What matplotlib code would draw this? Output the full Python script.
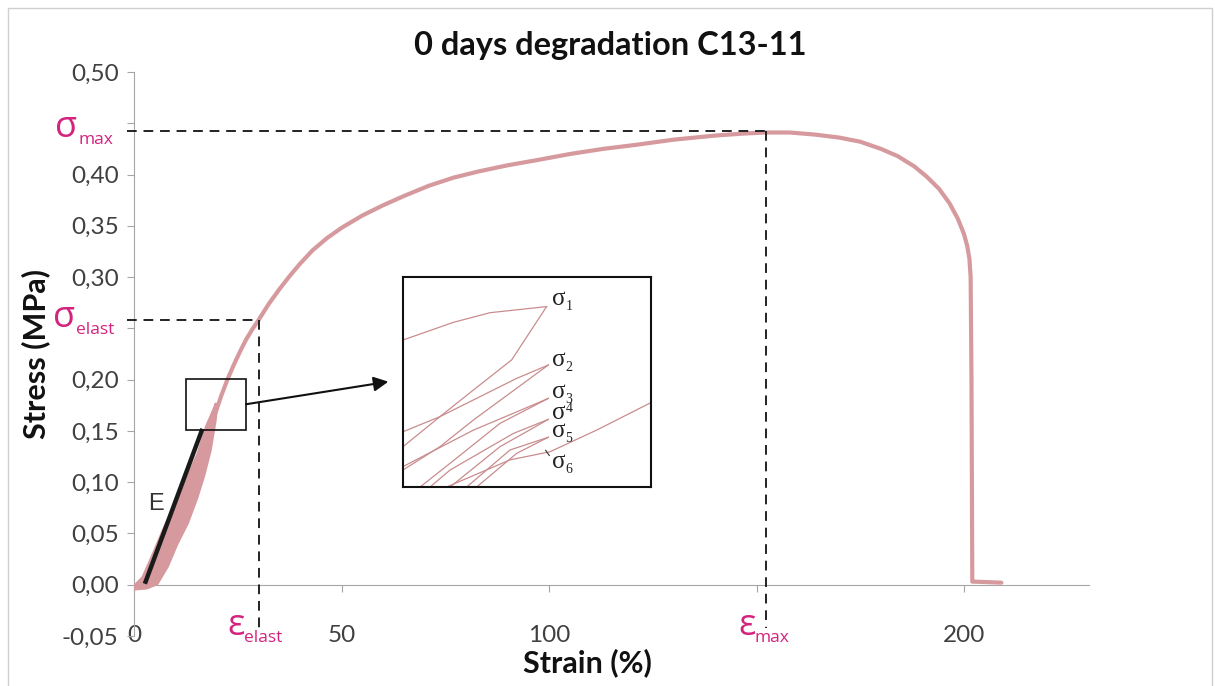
import numpy as np
import matplotlib.pyplot as plt
from matplotlib.patches import Rectangle

W, H = 1215, 686

# hysteresis band at the start (strain %, stress MPa)
loop_strain = [-0.5, 0.5, 2.2, 4.5, 7.1, 10.0, 12.7, 15.5, 17.5, 19.0, 19.9,
               19.5, 18.3, 16.8, 15.1, 12.8, 10.3, 8.0, 5.5, 3.0, 0.0, -0.5]
loop_stress = [-0.004, 0.0, 0.007, 0.028, 0.053, 0.078, 0.102, 0.128, 0.154, 0.168, 0.177,
               0.160, 0.131, 0.107, 0.085, 0.060, 0.040, 0.018, 0.001, -0.003, -0.004, -0.004]

# final loading up to rupture
curve_strain = [19.0, 20.0, 21.0, 22.5, 24.0, 25.5, 27.0, 28.5, 30.0, 32.5, 35.0, 37.5, 40.0,
                43.0, 46.5, 50.0, 55.0, 60.0, 65.0, 71.0, 77.0, 83.0, 90.0, 97.0, 105.0,
                113.0, 121.0, 130.0, 140.0, 147.0, 152.3, 158.0, 164.0, 170.0, 175.0, 180.0,
                184.0, 188.0, 191.0, 194.0, 196.5, 198.5, 200.0, 200.8, 201.3, 201.6, 201.8,
                202.0, 202.5, 209.0]
curve_stress = [0.160, 0.172, 0.184, 0.200, 0.214, 0.227, 0.239, 0.249, 0.258, 0.274, 0.288,
                0.301, 0.313, 0.326, 0.338, 0.348, 0.360, 0.370, 0.379, 0.389, 0.397, 0.403,
                0.409, 0.414, 0.420, 0.425, 0.429, 0.434, 0.438, 0.440, 0.441, 0.441, 0.439,
                0.436, 0.432, 0.425, 0.418, 0.408, 0.398, 0.386, 0.372, 0.357, 0.342, 0.330,
                0.318, 0.300, 0.200, 0.003, 0.003, 0.002]

# elastic modulus line
e_strain = [2.8, 16.3]
e_stress = [0.003, 0.150]

sigma_max, eps_max = 0.442, 152.3
sigma_elast, eps_elast = 0.258, 30.0

# region shown magnified
box_strain = [12.5, 27.0]
box_stress = [0.151, 0.201]

y_ticks = [-0.05, 0.0, 0.05, 0.10, 0.15, 0.20, 0.25, 0.30, 0.35, 0.40, 0.45, 0.50]
y_labels = ['-0,05', '0,00', '0,05', '0,10', '0,15', '0,20', '', '0,30', '0,35', '0,40', '', '0,50']
x_ticks = [0, 50, 100, 150, 200]
x_labels = ['0', '50', '100', '', '200']

# inset sketch (normalised inset coordinates)
inset_lines = [
    ([0.0, 0.203, 0.351, 0.579], [0.700, 0.784, 0.830, 0.859]),
    ([0.579, 0.438, 0.284, 0.149, 0.0], [0.859, 0.605, 0.462, 0.335, 0.192]),
    ([0.0, 0.149, 0.310, 0.458, 0.586], [0.263, 0.335, 0.430, 0.517, 0.581]),
    ([0.586, 0.284, 0.149, 0.0], [0.581, 0.319, 0.192, 0.081]),
    ([0.0, 0.284, 0.445, 0.586], [0.097, 0.271, 0.351, 0.422]),
    ([0.586, 0.391, 0.190, 0.069], [0.422, 0.303, 0.113, 0.0]),
    ([0.109, 0.190, 0.445, 0.586], [0.0, 0.081, 0.255, 0.322]),
    ([0.586, 0.391, 0.190], [0.322, 0.192, 0.0]),
    ([0.257, 0.431, 0.586], [0.0, 0.176, 0.237]),
    ([0.586, 0.458, 0.297], [0.237, 0.160, 0.0]),
    ([0.176, 0.431, 0.593, 0.781, 1.0], [0.0, 0.129, 0.168, 0.271, 0.402]),
]
inset_subs = ['1', '2', '3', '4', '5', '6']
inset_label_v = [0.895, 0.605, 0.452, 0.352, 0.268, 0.118]

pink = '#d69a9e'
magenta = '#d4237f'
grey = '#a6a6a6'
plt.rcParams['font.family'] = ['Lato', 'DejaVu Sans']

fig = plt.figure(figsize=(W / 100, H / 100), dpi=100)
fig.patches.append(Rectangle((8 / W, -0.01), (1212 - 8) / W, 1.01 - 8 / H, transform=fig.transFigure,
                             fill=False, edgecolor='#cfcfcf', lw=1))

ax = fig.add_axes([134 / W, 1 - 636 / H, (1088.5 - 134) / W, (636 - 72) / H])
ax.set_xlim(0, 230)
ax.set_ylim(-0.05, 0.5)

ax.fill(loop_strain, loop_stress, color=pink, lw=2.5, ec=pink, zorder=3)
ax.plot(curve_strain, curve_stress, color=pink, lw=3, zorder=3, solid_capstyle='round',
        solid_joinstyle='round')
ax.plot(e_strain, e_stress, color='#1a1a1a', lw=3.2, zorder=4)
ax.text(3.3, 0.079, 'E', fontsize=17, color='#333333', family=['Liberation Sans'], va='center', ha='left')

dash = dict(color='#222222', lw=1.4, dashes=(5, 3.5), zorder=5, clip_on=False)
ax.plot([-1.7, eps_max], [sigma_max, sigma_max], **dash)
ax.plot([eps_max, eps_max], [sigma_max, -0.042], **dash)
ax.plot([-1.7, eps_elast], [sigma_elast, sigma_elast], **dash)
ax.plot([eps_elast, eps_elast], [sigma_elast, -0.042], **dash)

ax.add_patch(Rectangle((box_strain[0], box_stress[0]), box_strain[1] - box_strain[0],
                       box_stress[1] - box_stress[0], fill=False, ec='#111111', lw=1.2, zorder=6))
ax.annotate('', xy=(61.3, 0.198), xytext=(box_strain[1], 0.176),
            arrowprops=dict(arrowstyle='-|>', color='#111111', lw=1.5, mutation_scale=22,
                            shrinkA=0, shrinkB=0), zorder=6)

for s in ['top', 'right']:
    ax.spines[s].set_visible(False)
ax.spines['left'].set_color(grey)
ax.spines['bottom'].set_color(grey)
ax.spines['bottom'].set_position(('data', 0))
ax.set_yticks(y_ticks)
ax.set_yticklabels(y_labels)
ax.set_xticks(x_ticks)
ax.set_xticklabels(x_labels)
ax.tick_params(axis='y', direction='out', length=5, color=grey, labelsize=17.5, labelcolor='#404040', pad=6)
ax.tick_params(axis='x', direction='out', length=5, color=grey, labelsize=17.5, labelcolor='#404040', pad=24)

fig.text(610 / W, 1 - 46 / H, '0 days degradation C13-11', fontsize=23.5, fontweight='bold',
         ha='center', va='center', color='#111111')
fig.text(587 / W, 1 - 663 / H, 'Strain (%)', fontsize=22, fontweight='bold', ha='center', va='center',
         color='#111111')
fig.text(36 / W, 1 - 354 / H, 'Stress (MPa)', fontsize=22, fontweight='bold', ha='center', va='center',
         rotation=90, color='#111111')

# magenta symbol labels
mfam = ['Open Sans', 'DejaVu Sans']
for sym, sub, x, y in [('σ', 'max', 55, 128), ('σ', 'elast', 53, 318), ('ε', 'elast', 227, 626), ('ε', 'max', 738, 626)]:
    fig.text(x / W, 1 - y / H, sym, fontsize=26, color=magenta, family=mfam, ha='left', va='center')
    fig.text((x + (23 if sym == 'σ' else 17)) / W, 1 - (y + 12) / H, sub, fontsize=12.5, color=magenta,
             family=mfam, ha='left', va='center')

# inset
ax_in = fig.add_axes([403 / W, 1 - 487 / H, 248 / W, 210 / H])
ax_in.set_xlim(0, 1)
ax_in.set_ylim(0, 1)
ax_in.set_xticks([])
ax_in.set_yticks([])
for s in ax_in.spines.values():
    s.set_color('#111111')
    s.set_linewidth(1.5)
for u, v in inset_lines:
    ax_in.plot(u, v, color='#c98c8e', lw=0.9)
ax_in.plot([0.575, 0.59], [0.175, 0.15], color='#333333', lw=0.8)
serif = ['Liberation Serif', 'DejaVu Serif']
for sub, v in zip(inset_subs, inset_label_v):
    ax_in.text(0.600, v, 'σ', fontsize=18, color='#222222', family=serif, ha='left', va='center')
    dv = 0.02 if sub == '4' else -0.035
    ax_in.text(0.655, v + dv, sub, fontsize=10, color='#222222', family=serif, ha='left', va='center')

fig.savefig('out.png', dpi=100)
